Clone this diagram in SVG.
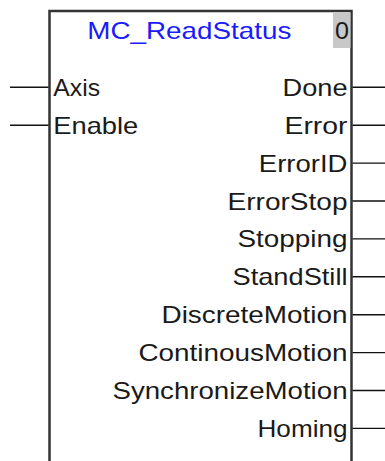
<svg xmlns="http://www.w3.org/2000/svg" width="385" height="461" viewBox="0 0 385 461">
<style>
.lbl{font-family:"Liberation Sans",Arial,sans-serif;font-size:24px;fill:#1a1a1a}
.out{text-anchor:end}
.pin{stroke:#111;stroke-width:1.4;fill:none}
.box{stroke:#333;stroke-width:2.5;fill:#fff}
</style>
<rect width="385" height="461" fill="#fff"/>
<g id="block">
<path class="box" d="M49.5,461 V11 H351.5 V461"/>
<rect x="333" y="12.5" width="17.5" height="35.5" fill="#c8c8c8"/>
<text class="lbl" x="87.3" y="39" textLength="204" lengthAdjust="spacingAndGlyphs" style="fill:#1a1aff">MC_ReadStatus</text>
<text class="lbl" x="335" y="39" textLength="14" lengthAdjust="spacingAndGlyphs">0</text>
</g>
<g id="inputs">
<text class="lbl" x="53.3" y="95.8" textLength="46.7" lengthAdjust="spacingAndGlyphs">Axis</text>
<text class="lbl" x="53.3" y="133.7" textLength="85" lengthAdjust="spacingAndGlyphs">Enable</text>
</g>
<g id="outputs">
<text class="lbl out" x="347.5" y="95.8" textLength="65" lengthAdjust="spacingAndGlyphs">Done</text>
<text class="lbl out" x="347.5" y="133.7" textLength="63" lengthAdjust="spacingAndGlyphs">Error</text>
<text class="lbl out" x="347.5" y="171.6" textLength="88.7" lengthAdjust="spacingAndGlyphs">ErrorID</text>
<text class="lbl out" x="347.5" y="209.5" textLength="120" lengthAdjust="spacingAndGlyphs">ErrorStop</text>
<text class="lbl out" x="347.5" y="247.4" textLength="110" lengthAdjust="spacingAndGlyphs">Stopping</text>
<text class="lbl out" x="347.5" y="285.3" textLength="115" lengthAdjust="spacingAndGlyphs">StandStill</text>
<text class="lbl out" x="347.5" y="323.2" textLength="186" lengthAdjust="spacingAndGlyphs">DiscreteMotion</text>
<text class="lbl out" x="347.5" y="361.1" textLength="209" lengthAdjust="spacingAndGlyphs">ContinousMotion</text>
<text class="lbl out" x="347.5" y="399" textLength="235" lengthAdjust="spacingAndGlyphs">SynchronizeMotion</text>
<text class="lbl out" x="347.5" y="436.9" textLength="90" lengthAdjust="spacingAndGlyphs">Homing</text>
</g>
<g id="connectors">
<path class="pin" d="M10,87.3 H48.5 M10,125.2 H48.5"/>
<path class="pin" d="M352.5,87.3 H385 M352.5,125.2 H385 M352.5,163.1 H385 M352.5,201 H385 M352.5,238.9 H385 M352.5,276.8 H385 M352.5,314.7 H385 M352.5,352.6 H385 M352.5,390.5 H385 M352.5,428.4 H385"/>
</g>
</svg>
